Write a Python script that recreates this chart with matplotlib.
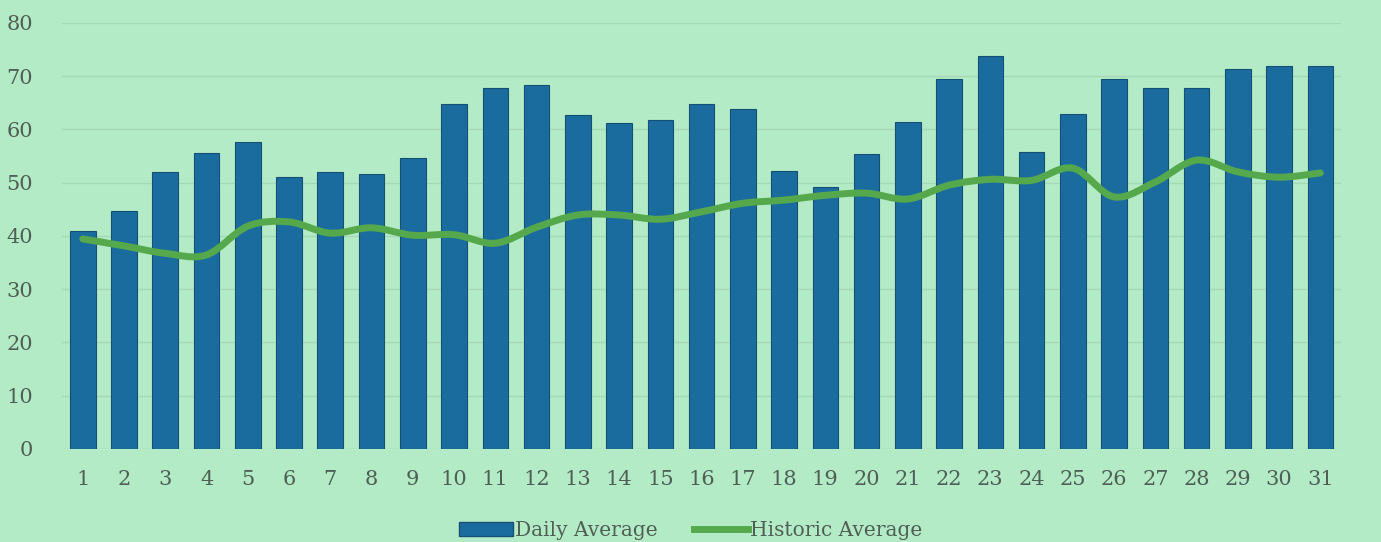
import numpy as np
import matplotlib.pyplot as plt
from matplotlib.path import Path
from matplotlib.patches import PathPatch, Patch
from matplotlib.lines import Line2D

days = list(range(1, 32))
daily_avg = [40.9, 44.6, 52.0, 55.5, 57.6, 51.0, 52.0, 51.6, 54.6, 64.7,
             67.7, 68.3, 62.7, 61.2, 61.7, 64.7, 63.8, 52.2, 49.2, 55.3,
             61.3, 69.4, 73.7, 55.7, 62.8, 69.4, 67.7, 67.7, 71.3, 71.8, 71.8]
historic_avg = [39.4, 38.1, 36.7, 36.4, 41.8, 42.6, 40.5, 41.5, 40.1, 40.2,
                38.6, 41.6, 43.9, 43.9, 43.1, 44.5, 46.1, 46.7, 47.6, 48.0,
                46.9, 49.5, 50.6, 50.4, 52.7, 47.3, 50.1, 54.2, 52.0, 51.0, 51.8]
y_ticks = [0, 10, 20, 30, 40, 50, 60, 70, 80]

bg = '#b3ebc6'
bar_color = '#1b6c9e'
line_color = '#55a94c'
text_color = '#4f5f55'


def smooth_path(xs, ys, t=1/6):
    # cubic bezier through the points, like a spreadsheet "smoothed line"
    xs = np.asarray(xs, float)
    ys = np.asarray(ys, float)
    verts = [(xs[0], ys[0])]
    codes = [Path.MOVETO]
    n = len(xs)
    for i in range(n - 1):
        p0 = max(i - 1, 0)
        p3 = min(i + 2, n - 1)
        c1 = (xs[i] + (xs[i + 1] - xs[p0]) * t, ys[i] + (ys[i + 1] - ys[p0]) * t)
        c2 = (xs[i + 1] - (xs[p3] - xs[i]) * t, ys[i + 1] - (ys[p3] - ys[i]) * t)
        verts += [c1, c2, (xs[i + 1], ys[i + 1])]
        codes += [Path.CURVE4] * 3
    return Path(verts, codes)


fig = plt.figure(figsize=(13.81, 5.42), dpi=100, facecolor=bg)
ax = fig.add_axes([0.045, 0.172, 0.926, 0.786])
ax.set_facecolor(bg)

ax.bar(days, daily_avg, width=0.62, color=bar_color, edgecolor='#164f75',
       linewidth=0.8, zorder=2)
ax.add_patch(PathPatch(smooth_path(days, historic_avg), facecolor='none',
                       edgecolor=line_color, linewidth=5, capstyle='round',
                       joinstyle='round', zorder=3))

ax.set_xlim(0.5, 31.5)
ax.set_ylim(0, 80)
ax.set_yticks(y_ticks)
ax.set_xticks(days)
ax.grid(axis='y', color='#a4d8b6', linewidth=1, zorder=0)
ax.set_axisbelow(True)
for s in ax.spines.values():
    s.set_visible(False)
ax.tick_params(length=0, colors=text_color, labelsize=15)
ax.tick_params(axis='x', pad=15)
ax.tick_params(axis='y', pad=21)
for lab in ax.get_xticklabels() + ax.get_yticklabels():
    lab.set_fontfamily('DejaVu Serif')

handles = [Patch(facecolor=bar_color, edgecolor='#164f75'),
           Line2D([0], [0], color=line_color, linewidth=5)]
fig.legend(handles, ['Daily Average', 'Historic Average'], loc='lower center',
           bbox_to_anchor=(0.5, -0.03), ncol=2, frameon=False,
           prop={'family': 'DejaVu Serif', 'size': 14.5}, labelcolor=text_color,
           handlelength=2.7, handletextpad=0.1, columnspacing=1.8)

fig.savefig('out.png', dpi=100, facecolor=bg)
